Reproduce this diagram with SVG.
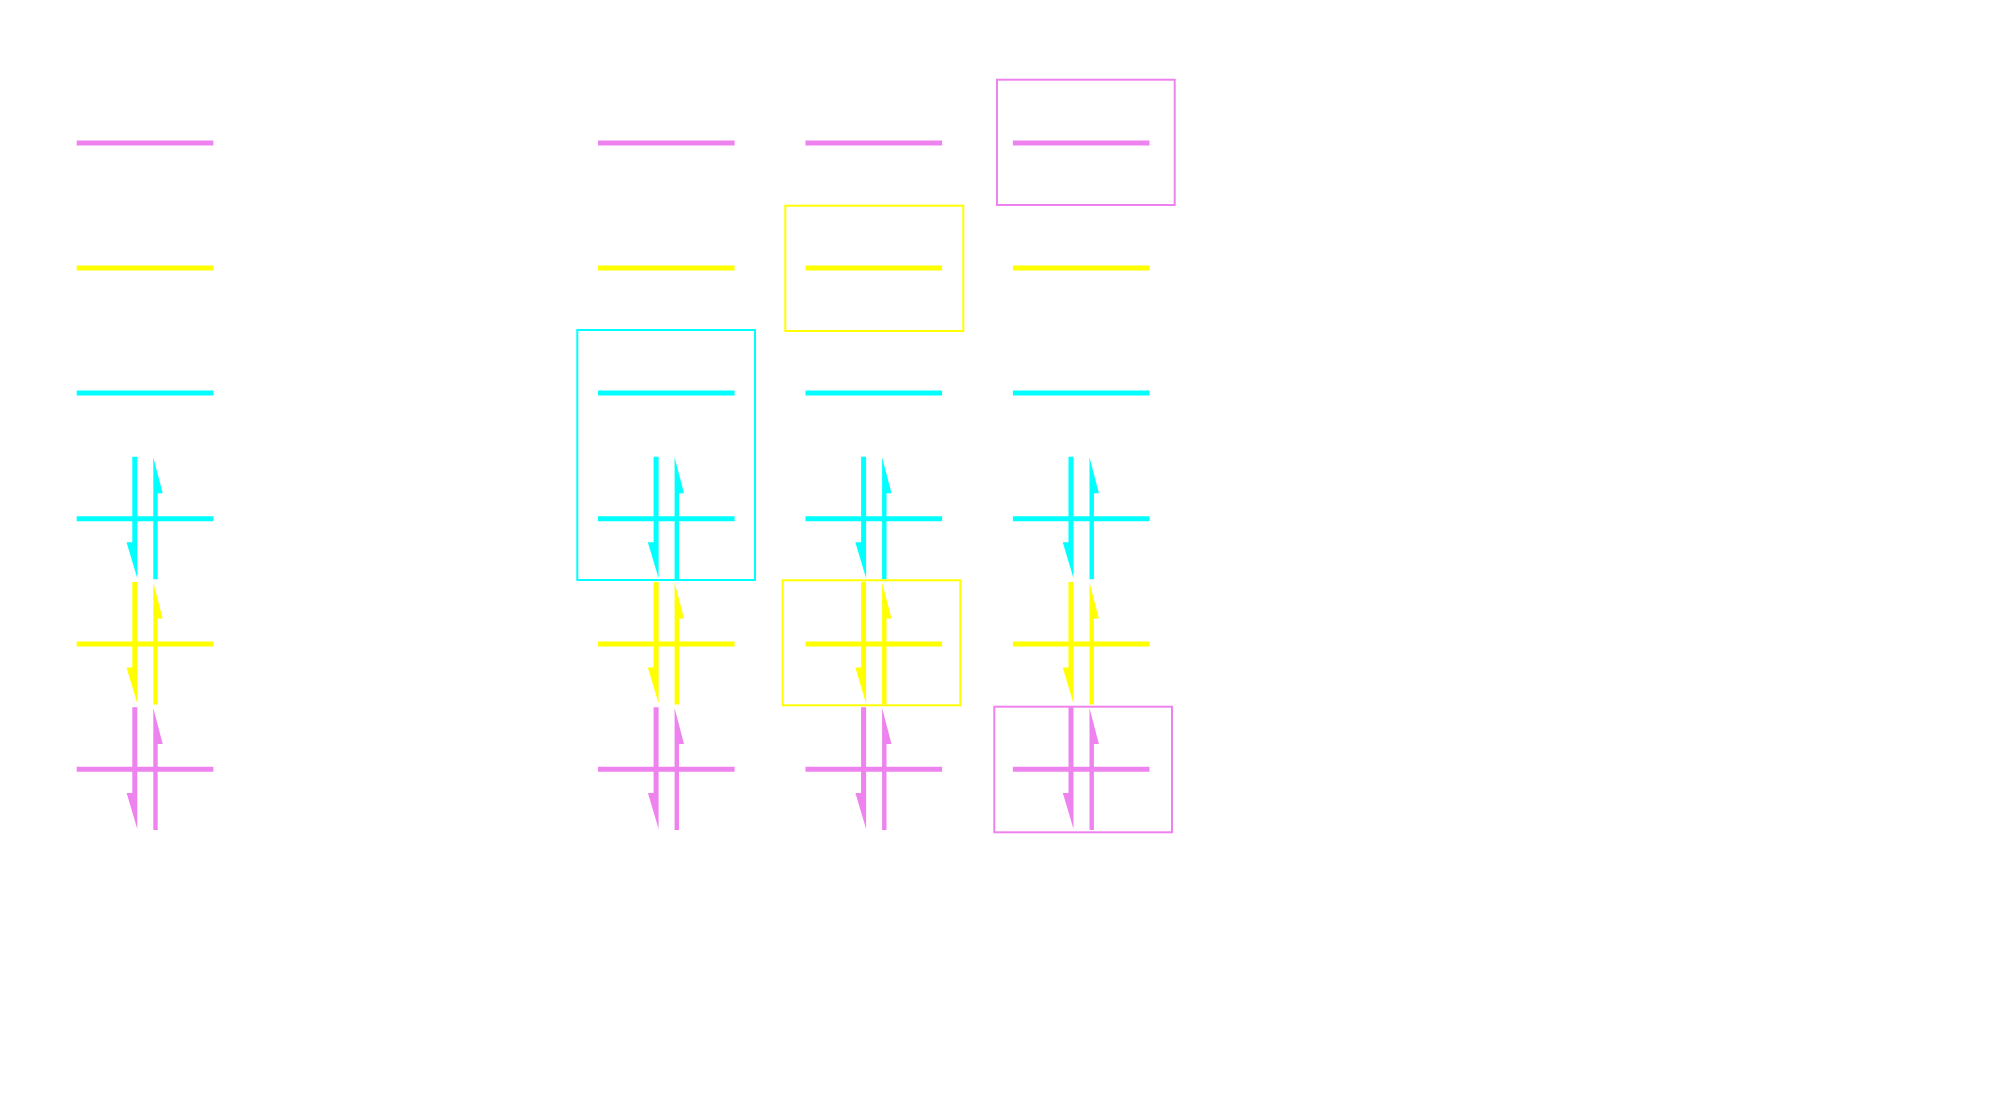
<svg xmlns="http://www.w3.org/2000/svg" xmlns:xlink="http://www.w3.org/1999/xlink" width="2000" height="1119" viewBox="0 0 2000 1119">
<style>
.lv{stroke-width:5;fill:none}
.box{stroke-width:2;fill:none}
.v{stroke:#EE82EE}.y{stroke:#FFFF00}.c{stroke:#00FFFF}
.fv{fill:#EE82EE}.fy{fill:#FFFF00}.fc{fill:#00FFFF}
</style>
<defs>
<line id="lvl" x1="-68.3" y1="0" x2="68.3" y2="0"/>
<g id="pair">
<polygon points="-12.7,-62 -7.7,-62 -7.7,59.6 -18.3,24 -18.3,23.6 -12.7,23.6"/>
<polygon points="8.3,-61.4 17.7,-25.4 12.7,-25.4 12.7,60.6 8.3,60.6"/>
</g>
</defs>
<rect width="2000" height="1119" fill="#ffffff"/>
<g id="col1">
<g id="c1-l6"><use xlink:href="#lvl" class="lv v" x="145" y="143"/></g>
<g id="c1-l5"><use xlink:href="#lvl" class="lv y" x="145" y="268"/></g>
<g id="c1-l4"><use xlink:href="#lvl" class="lv c" x="145" y="393"/></g>
<g id="c1-l3"><use xlink:href="#lvl" class="lv c" x="145" y="518.7"/><use xlink:href="#pair" class="fc" x="145" y="518.7"/></g>
<g id="c1-l2"><use xlink:href="#lvl" class="lv y" x="145" y="644"/><use xlink:href="#pair" class="fy" x="145" y="644"/></g>
<g id="c1-l1"><use xlink:href="#lvl" class="lv v" x="145" y="769.3"/><use xlink:href="#pair" class="fv" x="145" y="769.3"/></g>
</g>
<g id="col2">
<g id="c2-l6"><use xlink:href="#lvl" class="lv v" x="666.3" y="143"/></g>
<g id="c2-l5"><use xlink:href="#lvl" class="lv y" x="666.3" y="268"/></g>
<g id="c2-l4"><use xlink:href="#lvl" class="lv c" x="666.3" y="393"/></g>
<g id="c2-l3"><use xlink:href="#lvl" class="lv c" x="666.3" y="518.7"/><use xlink:href="#pair" class="fc" x="666.3" y="518.7"/></g>
<g id="c2-l2"><use xlink:href="#lvl" class="lv y" x="666.3" y="644"/><use xlink:href="#pair" class="fy" x="666.3" y="644"/></g>
<g id="c2-l1"><use xlink:href="#lvl" class="lv v" x="666.3" y="769.3"/><use xlink:href="#pair" class="fv" x="666.3" y="769.3"/></g>
<rect id="c2-box" class="box c" x="577.3" y="330" width="177.7" height="250"/>
</g>
<g id="col3">
<g id="c3-l6"><use xlink:href="#lvl" class="lv v" x="873.8" y="143"/></g>
<g id="c3-l5"><use xlink:href="#lvl" class="lv y" x="873.8" y="268"/></g>
<g id="c3-l4"><use xlink:href="#lvl" class="lv c" x="873.8" y="393"/></g>
<g id="c3-l3"><use xlink:href="#lvl" class="lv c" x="873.8" y="518.7"/><use xlink:href="#pair" class="fc" x="873.8" y="518.7"/></g>
<g id="c3-l2"><use xlink:href="#lvl" class="lv y" x="873.8" y="644"/><use xlink:href="#pair" class="fy" x="873.8" y="644"/></g>
<g id="c3-l1"><use xlink:href="#lvl" class="lv v" x="873.8" y="769.3"/><use xlink:href="#pair" class="fv" x="873.8" y="769.3"/></g>
<rect id="c3-box-top" class="box y" x="785.3" y="205.7" width="178" height="125.3"/>
<rect id="c3-box-bot" class="box y" x="782.7" y="580.3" width="177.6" height="125"/>
</g>
<g id="col4">
<g id="c4-l6"><use xlink:href="#lvl" class="lv v" x="1081.2" y="143"/></g>
<g id="c4-l5"><use xlink:href="#lvl" class="lv y" x="1081.2" y="268"/></g>
<g id="c4-l4"><use xlink:href="#lvl" class="lv c" x="1081.2" y="393"/></g>
<g id="c4-l3"><use xlink:href="#lvl" class="lv c" x="1081.2" y="518.7"/><use xlink:href="#pair" class="fc" x="1081.2" y="518.7"/></g>
<g id="c4-l2"><use xlink:href="#lvl" class="lv y" x="1081.2" y="644"/><use xlink:href="#pair" class="fy" x="1081.2" y="644"/></g>
<g id="c4-l1"><use xlink:href="#lvl" class="lv v" x="1081.2" y="769.3"/><use xlink:href="#pair" class="fv" x="1081.2" y="769.3"/></g>
<rect id="c4-box-top" class="box v" x="997" y="79.7" width="177.7" height="125.3"/>
<rect id="c4-box-bot" class="box v" x="994.3" y="706.7" width="177.7" height="125.6"/>
</g>
<g id="connectors"/>
</svg>
